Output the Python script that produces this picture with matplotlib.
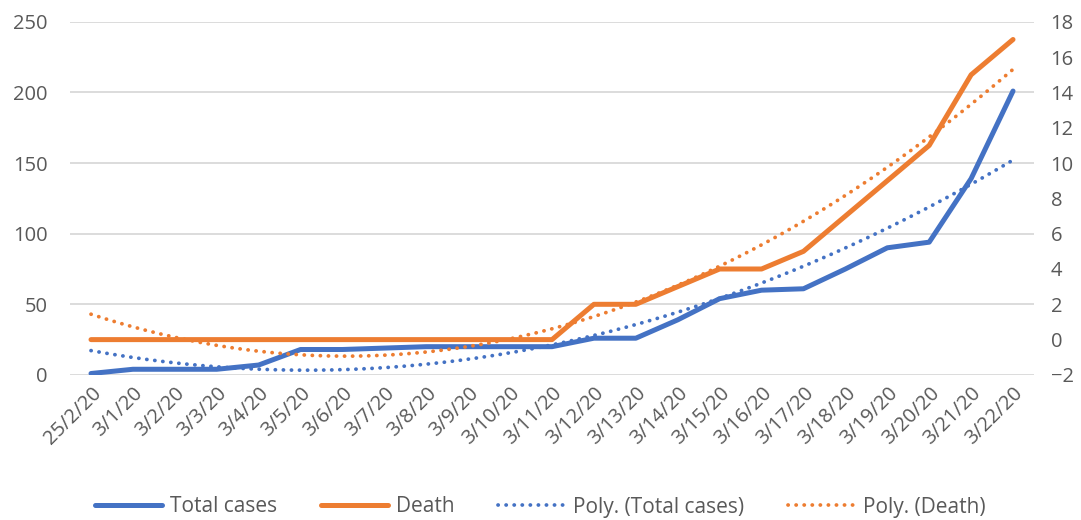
import numpy as np
import matplotlib
matplotlib.use("Agg")
import matplotlib.pyplot as plt

dates = ["25/2/20", "3/1/20", "3/2/20", "3/3/20", "3/4/20", "3/5/20", "3/6/20", "3/7/20",
         "3/8/20", "3/9/20", "3/10/20", "3/11/20", "3/12/20", "3/13/20", "3/14/20", "3/15/20",
         "3/16/20", "3/17/20", "3/18/20", "3/19/20", "3/20/20", "3/21/20", "3/22/20"]
total_cases = [1, 4, 4, 4, 7, 18, 18, 19, 20, 20, 20, 20, 26, 26, 39, 54, 60, 61, 75, 90, 94, 139, 201]
deaths = [0, 0, 0, 0, 0, 0, 0, 0, 0, 0, 0, 0, 2, 2, 3, 4, 4, 5, 7, 9, 11, 15, 17]
left_ticks = [0, 50, 100, 150, 200, 250]
right_ticks = [-2, 0, 2, 4, 6, 8, 10, 12, 14, 16, 18]

BLUE = "#4472C4"
ORANGE = "#ED7D31"
TXT = "#595959"
plt.rcParams['font.family'] = ['Open Sans', 'DejaVu Sans']

fig = plt.figure(figsize=(10.81, 5.2), dpi=100)
ax = fig.add_axes([0.0648, 0.279, 0.8917, 0.679])
ax2 = ax.twinx()

x = np.arange(len(dates))
xf = np.linspace(0, len(dates) - 1, 200)
pc = np.polyfit(x, total_cases, 2)
pd_ = np.polyfit(x, deaths, 2)

dot = (0, (0.05, 2.1))
l1, = ax.plot(x, total_cases, color=BLUE, lw=3.6, solid_capstyle='round', solid_joinstyle='round', zorder=3)
l3, = ax.plot(xf, np.polyval(pc, xf), color=BLUE, lw=2.7, linestyle=dot, dash_capstyle='round', zorder=2)
l2, = ax2.plot(x, deaths, color=ORANGE, lw=3.6, solid_capstyle='round', solid_joinstyle='round', zorder=3)
l4, = ax2.plot(xf, np.polyval(pd_, xf), color=ORANGE, lw=2.7, linestyle=dot, dash_capstyle='round', zorder=2)

ax.set_xlim(-0.5, len(dates) - 0.5)
ax.set_ylim(0, 250)
ax2.set_ylim(-2, 18)
ax.set_yticks(left_ticks)
ax2.set_yticks(right_ticks)
ax.set_xticks(x)
ax.set_xticklabels(dates, rotation=45, ha='right', rotation_mode='anchor')
ax.grid(axis='y', color='#D9D9D9', lw=1.3)
ax.set_axisbelow(True)
for a in (ax, ax2):
    for s in a.spines.values():
        s.set_visible(False)
    a.tick_params(length=0, colors=TXT, labelsize=14.5)
ax.tick_params(axis='y', pad=16)
ax2.tick_params(axis='y', pad=12)
ax.tick_params(axis='x', pad=6)

leg = fig.legend([l1, l2, l3, l4], ["Total cases", "Death", "Poly. (Total cases)", "Poly. (Death)"],
                 loc='center', bbox_to_anchor=(0.5, 0.025), ncol=4, frameon=False,
                 handlelength=3.2, columnspacing=2.1, handletextpad=0.4, fontsize=15)
for t in leg.get_texts():
    t.set_color(TXT)

fig.savefig("out.png", dpi=100)
